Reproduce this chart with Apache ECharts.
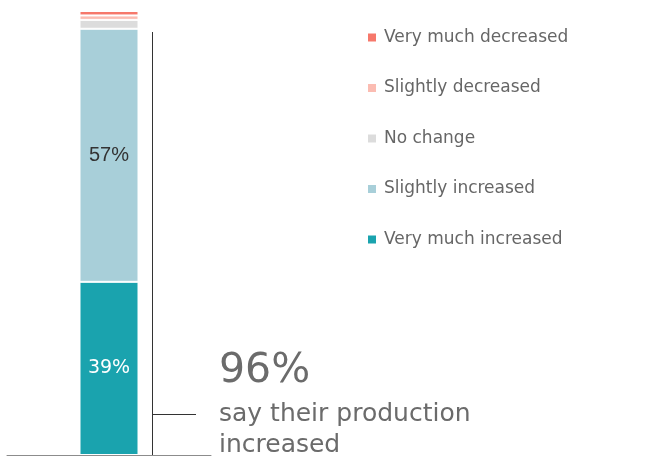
<!DOCTYPE html>
<html>
<head>
<meta charset="utf-8">
<script src="https://cdn.jsdelivr.net/npm/echarts@6/dist/echarts.min.js"></script>
<style>
  html, body { margin: 0; padding: 0; background: #fff; }
  #chart { width: 645px; height: 466px; }
</style>
</head>
<body>
<div id="chart"></div>
<script>
// Share of respondents by change in production (percent)
const categories = ['Production'];
const seriesNames = ['Very much increased', 'Slightly increased', 'No change', 'Slightly decreased', 'Very much decreased'];
const veryMuchIncreased = [39];
const slightlyIncreased = [57];
const noChange = [2];
const slightlyDecreased = [1];
const veryMuchDecreased = [1];
const seriesColors = ['#1aa3ae', '#a8cfd9', '#dcdcdc', '#fbbcb2', '#f6786b'];
const headline = '96%';
const headlineText = ['say their production', 'increased'];

const values = [veryMuchIncreased, slightlyIncreased, noChange, slightlyDecreased, veryMuchDecreased];
const labelStyles = [
  { color: '#ffffff', fontSize: 19, fontFamily: '"DejaVu Sans", sans-serif' },
  { color: '#333333', fontSize: 20, fontFamily: '"Liberation Sans", Arial, sans-serif' },
  null, null, null
];

const chart = echarts.init(document.getElementById('chart'));

const series = seriesNames.map((name, i) => ({
  name: name,
  type: 'bar',
  stack: 'total',
  barWidth: 59,
  data: values[i],
  itemStyle: { color: seriesColors[i], borderColor: '#ffffff', borderWidth: 1 },
  label: labelStyles[i] ? Object.assign({
    show: true,
    position: 'inside',
    formatter: '{c}%'
  }, labelStyles[i]) : { show: false },
  emphasis: { disabled: true }
}));

chart.setOption({
  animation: false,
  grid: { left: 7, width: 204, top: 11, bottom: 11 },
  xAxis: {
    type: 'category',
    data: categories,
    axisLine: { show: true, lineStyle: { color: '#8c8c8c', width: 1 } },
    axisTick: { show: false },
    axisLabel: { show: false }
  },
  yAxis: {
    type: 'value',
    min: 0,
    max: 100,
    show: false
  },
  legend: {
    orient: 'vertical',
    left: 361,
    top: 24,
    icon: 'rect',
    itemWidth: 10,
    itemHeight: 10,
    itemGap: 33.5,
    data: seriesNames.slice().reverse(),
    textStyle: { color: '#666666', fontSize: 17, fontFamily: '"DejaVu Sans", sans-serif', padding: [0, 0, 0, 2] }
  },
  series: series,
  graphic: [
    { type: 'line', shape: { x1: 152.5, y1: 32, x2: 152.5, y2: 455 }, style: { stroke: '#333333', lineWidth: 1 } },
    { type: 'line', shape: { x1: 152, y1: 414.5, x2: 196, y2: 414.5 }, style: { stroke: '#333333', lineWidth: 1 } },
    { type: 'text', left: 219, top: 351, style: { text: headline, fill: '#6b6b6b', font: '41px "DejaVu Sans", sans-serif' } },
    { type: 'text', left: 219, top: 402, style: { text: headlineText[0], fill: '#6b6b6b', font: '25px "DejaVu Sans", sans-serif' } },
    { type: 'text', left: 219, top: 433, style: { text: headlineText[1], fill: '#6b6b6b', font: '25px "DejaVu Sans", sans-serif' } }
  ]
});
</script>
</body>
</html>
